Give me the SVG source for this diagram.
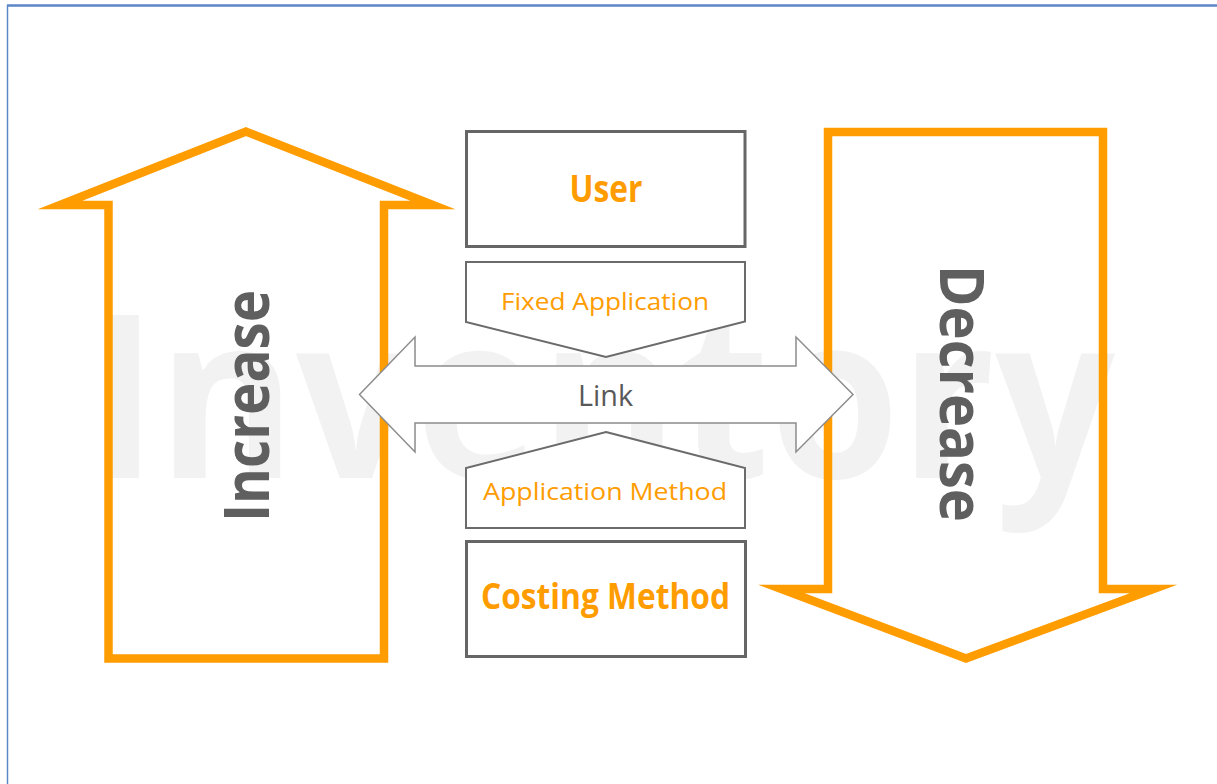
<svg xmlns="http://www.w3.org/2000/svg" width="1217" height="784" viewBox="0 0 1217 784">
  <style>
    .big { fill: none; stroke: #FF9C00; stroke-width: 8.5; stroke-linejoin: miter; stroke-miterlimit: 12; }
    .box { fill: #FFFFFF; stroke: #666666; stroke-width: 3; }
    .pent { fill: #FFFFFF; stroke: #6B6B6B; stroke-width: 2; }
    .link { fill: #FFFFFF; stroke: #8C8C8C; stroke-width: 1.5; }
    .ob { font-family: "Open Sans", "Liberation Sans", sans-serif; font-weight: 700; fill: #FF9C00; text-anchor: middle; }
    .or { font-family: "Open Sans", "Liberation Sans", sans-serif; font-weight: 400; fill: #FF9C00; text-anchor: middle; }
    .gb { font-family: "Open Sans", "Liberation Sans", sans-serif; font-weight: 700; fill: #5F5F5F; text-anchor: middle; }
  </style>
  <rect x="0" y="0" width="1217" height="784" fill="#FFFFFF"/>
  <g id="frame">
    <line x1="7" y1="5.5" x2="1217" y2="5.5" stroke="#5B87C8" stroke-width="2.5"/>
    <line x1="7.5" y1="5" x2="7.5" y2="784" stroke="#5B87C8" stroke-width="1.5"/>
  </g>
  <g id="watermark">
    <text x="88" y="478" font-family="'Open Sans', 'Liberation Sans', sans-serif" font-weight="700" font-size="228" fill="#F2F2F2" textLength="1027" lengthAdjust="spacingAndGlyphs">Inventory</text>
  </g>
  <g id="increase">
    <polygon class="big" points="246,131.6 433,205 384,205 384,658.5 108.5,658.5 108.5,205 60,205"/>
    <text class="gb" transform="translate(269,406) rotate(-90)" x="0" y="0" font-size="62" textLength="232" lengthAdjust="spacingAndGlyphs">Increase</text>
  </g>
  <g id="decrease">
    <polygon class="big" points="828,132 1103,132 1103,589 1153.5,589 966,658.5 781.5,589 828,589"/>
    <text class="gb" transform="translate(940,393.5) rotate(90)" x="0" y="0" font-size="60" textLength="257" lengthAdjust="spacingAndGlyphs">Decrease</text>
  </g>
  <g id="user">
    <rect class="box" x="466.5" y="131.5" width="278.5" height="115"/>
    <text class="ob" x="606" y="202" font-size="38" textLength="73" lengthAdjust="spacingAndGlyphs">User</text>
  </g>
  <g id="fixed-application">
    <polygon class="pent" points="466,262 745,262 745,321.5 606,357 466,322"/>
    <text class="or" x="605" y="310" font-size="24.5" textLength="208" lengthAdjust="spacingAndGlyphs">Fixed Application</text>
  </g>
  <g id="application-method">
    <polygon class="pent" points="606,432 745,468 745,528 466,528 466,468"/>
    <text class="or" x="605" y="500" font-size="24.5" textLength="244" lengthAdjust="spacingAndGlyphs">Application Method</text>
  </g>
  <g id="costing-method">
    <rect class="box" x="466.5" y="541.5" width="279" height="115"/>
    <text class="ob" x="605.5" y="609" font-size="36" textLength="249" lengthAdjust="spacingAndGlyphs">Costing Method</text>
  </g>
  <g id="connectors">
    <g id="link">
      <polygon class="link" points="359.5,394.5 415,337 415,366 796,366 796,337 853,394.5 796,452 796,423 415,423 415,452"/>
      <text x="605.5" y="406" font-family="'Open Sans', 'Liberation Sans', sans-serif" font-size="30" fill="#595959" text-anchor="middle" textLength="55" lengthAdjust="spacingAndGlyphs">Link</text>
    </g>
  </g>
</svg>
